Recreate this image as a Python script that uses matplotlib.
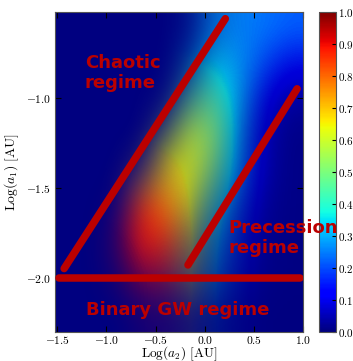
import numpy as np
import matplotlib
matplotlib.use("Agg")
import matplotlib.pyplot as plt
from matplotlib.colors import Normalize
from matplotlib.cm import ScalarMappable

plt.rcParams["mathtext.fontset"] = "cm"
plt.rcParams["font.family"] = "serif"
plt.rcParams["font.serif"] = ["cmr10", "DejaVu Serif"]
plt.rcParams["axes.formatter.use_mathtext"] = True

# Grid limits in log10 AU: a2 from 0.03 to 10 AU, a1 from 0.005 to 0.3 AU
log_a2_range = [np.log10(0.03), 1.0]
log_a1_range = [np.log10(0.005), np.log10(0.3)]

# Fraction map on a coarse grid: rows run from large a1 (top) to small a1,
# columns from small a2 to large a2
fraction = np.array([
    [0.40, 0.40, 0.38, 0.36, 0.33, 0.30, 0.28, 0.26, 0.24, 0.22],
    [0.50, 0.48, 0.46, 0.43, 0.40, 0.38, 0.35, 0.28, 0.20, 0.14],
    [0.66, 0.62, 0.58, 0.55, 0.52, 0.50, 0.46, 0.30, 0.13, 0.05],
    [0.76, 0.72, 0.68, 0.65, 0.62, 0.60, 0.53, 0.30, 0.10, 0.02],
    [0.84, 0.80, 0.76, 0.73, 0.68, 0.63, 0.52, 0.27, 0.08, 0.02],
    [0.90, 0.90, 0.88, 0.86, 0.79, 0.64, 0.44, 0.22, 0.06, 0.02],
    [0.93, 0.93, 0.92, 0.88, 0.86, 0.68, 0.36, 0.18, 0.05, 0.02],
    [0.93, 0.93, 0.93, 0.90, 0.88, 0.66, 0.34, 0.18, 0.05, 0.02],
    [0.93, 0.93, 0.93, 0.90, 0.88, 0.66, 0.34, 0.18, 0.05, 0.02],
])

# Opacity of the fraction map over the empty background
opacity = np.array([
    [0.00, 0.00, 0.00, 0.00, 0.00, 0.10, 0.65, 0.92, 1.00, 1.00],
    [0.00, 0.00, 0.00, 0.00, 0.00, 0.25, 0.78, 0.90, 0.85, 0.75],
    [0.00, 0.00, 0.00, 0.00, 0.05, 0.55, 0.80, 0.72, 0.60, 0.50],
    [0.00, 0.00, 0.00, 0.00, 0.35, 0.85, 0.78, 0.55, 0.42, 0.32],
    [0.00, 0.00, 0.00, 0.20, 0.75, 0.85, 0.60, 0.55, 0.45, 0.35],
    [0.00, 0.00, 0.05, 0.85, 0.95, 0.60, 0.45, 0.40, 0.32, 0.26],
    [0.00, 0.00, 0.20, 0.90, 0.75, 0.35, 0.36, 0.32, 0.22, 0.18],
    [0.00, 0.00, 0.10, 0.42, 0.40, 0.26, 0.26, 0.22, 0.12, 0.08],
    [0.00, 0.00, 0.00, 0.08, 0.10, 0.08, 0.08, 0.06, 0.02, 0.00],
])

# Regime boundaries in (Log a2, Log a1)
chaotic_x = [-1.43, 0.21]
chaotic_y = [-1.95, -0.56]
precession_x = [-0.17, 0.94]
precession_y = [-1.93, -0.95]
gw_x = [-1.48, 0.97]
gw_y = [-2.0, -2.0]

# Regime labels and their anchor points
regime_text = ["Chaotic\nregime", "Precession\nregime", "Binary GW regime"]
regime_x = [-1.22, 0.24, -1.21]
regime_y = [-0.863, -1.78, -2.207]
regime_va = ["center", "center", "baseline"]

xticks = [-1.5, -1.0, -0.5, 0.0, 0.5, 1.0]
yticks = [-2.0, -1.5, -1.0]
cbar_ticks = np.round(np.arange(0, 11) * 0.1, 1)

line_red = "#bb0000"
cmap = plt.get_cmap("jet")

fig = plt.figure(figsize=(3.53, 3.61), dpi=100)
ax = fig.add_axes([0.1558, 0.0812, 0.7025, 0.8856])
cax = fig.add_axes([0.9037, 0.0812, 0.0473, 0.8856])

ax.set_facecolor(cmap(0.0))
ax.imshow(fraction, cmap=cmap, vmin=0, vmax=1, alpha=opacity,
          extent=[log_a2_range[0], log_a2_range[1], log_a1_range[0], log_a1_range[1]],
          origin="upper", aspect="auto", interpolation="bicubic",
          interpolation_stage="data")

for xs, ys in [(chaotic_x, chaotic_y), (precession_x, precession_y), (gw_x, gw_y)]:
    ax.plot(xs, ys, color=line_red, lw=5.4, solid_capstyle="round", zorder=3)

for txt, tx, ty, va in zip(regime_text, regime_x, regime_y, regime_va):
    ax.text(tx, ty, txt, color=line_red, fontsize=13, fontweight="bold",
            family="DejaVu Sans", ha="left", va=va, linespacing=1.15,
            clip_on=False, zorder=4)

ax.set_xlim(log_a2_range)
ax.set_ylim(log_a1_range)
ax.set_xticks(xticks)
ax.set_yticks(yticks)
ax.xaxis.set_major_formatter(matplotlib.ticker.FormatStrFormatter("$%.1f$"))
ax.yaxis.set_major_formatter(matplotlib.ticker.FormatStrFormatter("$%.1f$"))
ax.tick_params(direction="in", top=True, right=True, length=4, width=0.8,
               labelsize=8.3)
ax.tick_params(axis="x", pad=2)
ax.tick_params(axis="y", pad=2.5)
ax.set_xlabel(r"$\mathrm{Log}(a_2)\ [\mathrm{AU}]$", fontsize=9.6, labelpad=-1.1)
ax.set_ylabel(r"$\mathrm{Log}(a_1)\ [\mathrm{AU}]$", fontsize=9.8, labelpad=4)
for sp in ax.spines.values():
    sp.set_color("#555555")
    sp.set_linewidth(0.8)

sm = ScalarMappable(norm=Normalize(0, 1), cmap=cmap)
cb = fig.colorbar(sm, cax=cax, ticks=cbar_ticks)
cb.ax.yaxis.set_major_formatter(matplotlib.ticker.FormatStrFormatter("$%.1f$"))
cb.ax.tick_params(direction="in", length=3, width=0.8, labelsize=8, pad=1.5)
cb.outline.set_edgecolor("#555555")
cb.outline.set_linewidth(0.8)

ax.set_zorder(3)
fig.savefig("out.png", dpi=100)
